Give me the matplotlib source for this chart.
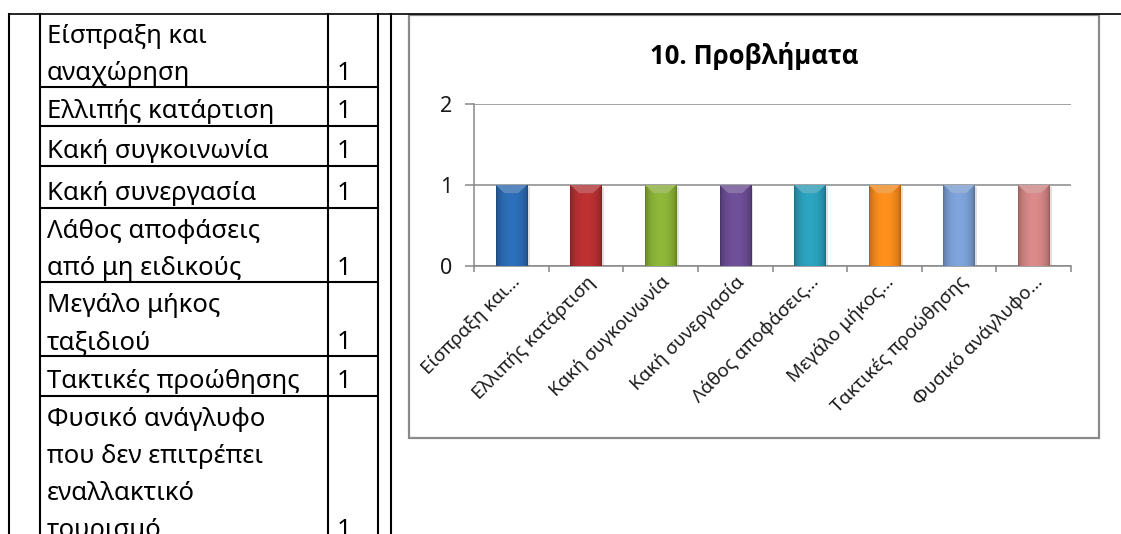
import numpy as np
import matplotlib
matplotlib.use("Agg")
import matplotlib.pyplot as plt
from matplotlib.patches import Rectangle, Polygon
from matplotlib.colors import to_rgb

plt.rcParams['font.family'] = ['Noto Sans', 'DejaVu Sans']

# Problems reported (wrapped the way the table cells wrap them)
table_rows = [
    ["Είσπραξη και", "αναχώρηση"],
    ["Ελλιπής κατάρτιση"],
    ["Κακή συγκοινωνία"],
    ["Κακή συνεργασία"],
    ["Λάθος αποφάσεις", "από μη ειδικούς"],
    ["Μεγάλο μήκος", "ταξιδιού"],
    ["Τακτικές προώθησης"],
    ["Φυσικό ανάγλυφο", "που δεν επιτρέπει", "εναλλακτικό", "τουρισμό"],
]
problems = [" ".join(r) for r in table_rows]
counts = [1, 1, 1, 1, 1, 1, 1, 1]

# Category labels as shown under the chart (long ones get cut off)
xtick_labels = [
    "Είσπραξη και…", "Ελλιπής κατάρτιση", "Κακή συγκοινωνία", "Κακή συνεργασία",
    "Λάθος αποφάσεις…", "Μεγάλο μήκος…", "Τακτικές προώθησης", "Φυσικό ανάγλυφο…",
]
yticks = [0, 1, 2]

bar_colors = ["#2a67ad", "#b02e30", "#85ab36", "#674a8f",
              "#2899b3", "#ee861a", "#7699cd", "#cc8080"]

W, H = 1121, 534
fig = plt.figure(figsize=(W / 100, H / 100), dpi=100)

# page layer in pixel coordinates
bg = fig.add_axes([0, 0, 1, 1])
bg.set_xlim(0, W)
bg.set_ylim(H, 0)
bg.axis('off')

line_kw = dict(color='black', lw=1.5, solid_capstyle='butt')
bg.plot([9, W], [13.5, 13.5], color='black', lw=1.2)
for xv in [9, 40, 328, 378, 391]:
    bg.plot([xv, xv], [13, H], **line_kw)

row_edges = [13, 87, 126, 166, 208, 282, 356, 396]
for yv in row_edges[1:]:
    bg.plot([40, 378], [yv, yv], **line_kw)

# table text
txt_kw = dict(fontsize=18.5, color='black', va='baseline', ha='left')
for i, (lines, n) in enumerate(zip(table_rows, counts)):
    top = row_edges[i]
    if len(lines) == 1:
        base = [row_edges[i + 1] - 8]
    else:
        base = [top + 30 + 37 * k for k in range(len(lines))]
    for b, s in zip(base, lines):
        bg.text(47, b, s, **txt_kw)
    bg.text(337, base[-1], str(n), **txt_kw)

# chart frame
bg.add_patch(Rectangle((409, 15), 690, 423, fill=False, ec='#8a8a8a', lw=1.6))
bg.text(754, 64, "10. Προβλήματα", fontsize=18.5, fontweight='bold',
        family=['Open Sans', 'DejaVu Sans'],
        ha='center', va='baseline', color='black')

# chart axes
left, right, top, bottom = 474, 1071, 104, 266
ax = fig.add_axes([left / W, 1 - bottom / H, (right - left) / W, (bottom - top) / H])
ax.set_facecolor('none')

x = np.arange(len(problems))
bars = ax.bar(x, counts, width=0.42, color=bar_colors, zorder=3, lw=0)

# bevel shading on each bar
t = np.linspace(0, 1, 80)
shade = 0.68 + 0.40 * np.sin(np.pi * t) ** 0.45
for patch, c in zip(bars.patches, bar_colors):
    x0, y0 = patch.get_x(), patch.get_y()
    w, h = patch.get_width(), patch.get_height()
    base = np.array(to_rgb(c))
    # soft shadow to the right
    ax.add_patch(Rectangle((x0 + 0.035, y0 - 0.02), w, h, color='#000000',
                           alpha=0.12, lw=0, zorder=2))
    img = np.clip(base[None, None, :] * shade[None, :, None], 0, 1)
    img = np.repeat(img, 2, axis=0)
    im = ax.imshow(img, extent=[x0, x0 + w, y0, y0 + h], aspect='auto',
                   interpolation='bilinear', zorder=3.5)
    im.set_clip_path(patch)
    light = base + (1 - base) * 0.22
    bh = h * 0.1
    ax.add_patch(Polygon([(x0, y0 + h), (x0 + w, y0 + h),
                          (x0 + w * 0.72, y0 + h - bh), (x0 + w * 0.28, y0 + h - bh)],
                         closed=True, color=light, lw=0, zorder=4))

ax.set_xlim(-0.5, len(problems) - 0.5)
ax.set_ylim(0, 2)

grid_c = '#878787'
ax.set_yticks(yticks)
ax.yaxis.grid(True, color=grid_c, lw=1.1, zorder=1)
ax.set_axisbelow(True)
for s in ['top', 'right']:
    ax.spines[s].set_visible(False)
for s in ['left', 'bottom']:
    ax.spines[s].set_color(grid_c)
    ax.spines[s].set_linewidth(1.1)

ax.tick_params(axis='y', length=6.5, width=1.1, color=grid_c, pad=9,
               labelsize=15.5, labelcolor='#1a1a1a')
ax.set_xticks(np.arange(len(problems) + 1) - 0.5)
ax.set_xticklabels([])
ax.tick_params(axis='x', which='major', length=4.5, width=1.1, color=grid_c)
ax.set_xticks(x, minor=True)
ax.set_xticklabels(xtick_labels, minor=True, rotation=45, ha='right',
                   rotation_mode='anchor', fontsize=13.5, color='#1a1a1a')
ax.tick_params(axis='x', which='minor', length=0, pad=5)

fig.savefig('out.png', dpi=100)
